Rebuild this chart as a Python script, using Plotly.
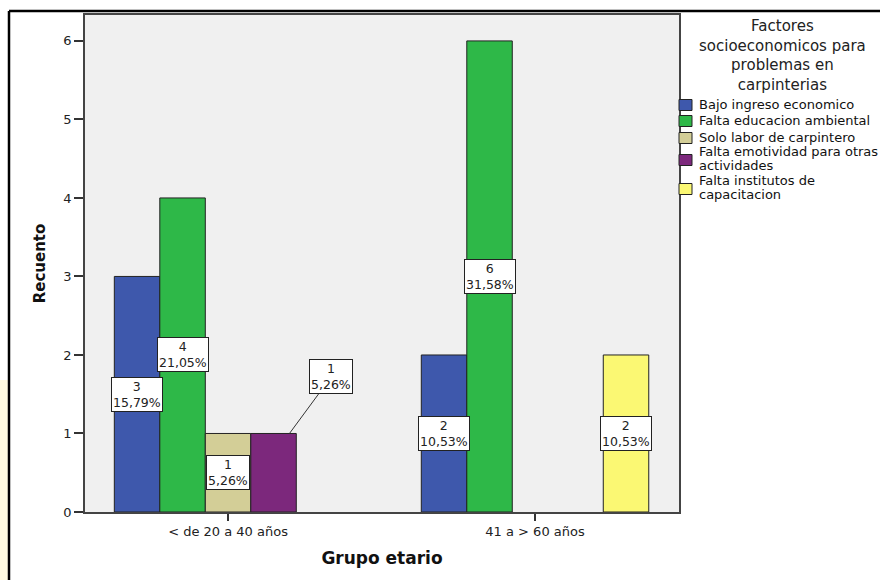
import plotly.graph_objects as go

# Category axis and series (counts per age group)
grupos = ["< de 20 a 40 años", "41 a > 60 años"]
factores = [
    ["Bajo ingreso economico"],
    ["Falta educacion ambiental"],
    ["Solo labor de carpintero"],
    ["Falta emotividad para otras", "actividades"],
    ["Falta institutos de", "capacitacion"],
]
titulo_leyenda = ["Factores", "socioeconomicos para", "problemas en", "carpinterias"]
bajo_ingreso = [3, 2]
falta_educacion = [4, 6]
solo_labor = [1, 0]
falta_emotividad = [1, 0]
falta_institutos = [0, 2]
colores = ["#3E58AC", "#2EB848", "#D3CE97", "#7C287C", "#FBF873"]

series = [bajo_ingreso, falta_educacion, solo_labor, falta_emotividad, falta_institutos]
total = sum(sum(s) for s in series)

W, H = 880, 580
ML, MR, MT, MB = 85, 201, 15, 68
PW, PH = W - ML - MR, H - MT - MB
BARGAP = 0.259
slot = (1 - BARGAP) / len(series)

SANS = "DejaVu Sans, Verdana, sans-serif"


def px_x(px):
    return (px - ML) / PW


def px_y(py):
    return (H - MB - py) / PH


fig = go.Figure()
for nombre, vals, col in zip(factores, series, colores):
    fig.add_trace(go.Bar(
        x=grupos, y=[v if v > 0 else None for v in vals], name=" ".join(nombre),
        marker=dict(color=col, line=dict(color="#222222", width=1)),
        hoverinfo="skip", showlegend=False,
    ))


def etiqueta(v):
    pct = f"{100 * v / total:.2f}".replace(".", ",")
    return f"{v}<br>{pct}%"


annotations = []
for i, vals in enumerate(series):
    for j, v in enumerate(vals):
        if v <= 0:
            continue
        xc = j + (i - (len(series) - 1) / 2) * slot
        base = dict(text=etiqueta(v), xref="x", yref="y",
                    font=dict(family=SANS, size=12.5, color="#222222"),
                    bgcolor="#FFFFFF", bordercolor="#222222", borderwidth=1,
                    borderpad=1)
        if i == 3:
            # callout placed outside the short bar, with a leader line
            annotations.append(dict(base, x=xc + 0.35 * slot, y=v,
                                    showarrow=True, arrowhead=0, arrowwidth=1,
                                    arrowcolor="#333333", ax=42, ay=-57))
        else:
            annotations.append(dict(base, x=xc, y=v / 2, showarrow=False))

# legend title, one centred block
annotations.append(dict(
    text="<br>".join(titulo_leyenda), xref="paper", yref="paper",
    x=px_x(782), y=px_y(56), xanchor="center", yanchor="middle", align="center",
    showarrow=False, font=dict(family=SANS, size=15, color="#222222")))

# legend entries: swatch + text lines
shapes = []
sw_centres = [105, 121, 138, 160, 189]
for k, (lineas, col) in enumerate(zip(factores, colores)):
    yc = sw_centres[k]
    shapes.append(dict(type="rect", xref="paper", yref="paper",
                       x0=px_x(679), x1=px_x(692), y0=px_y(yc + 5.5), y1=px_y(yc - 5.5),
                       fillcolor=col, line=dict(color="#222222", width=1)))
    n = len(lineas)
    for m, linea in enumerate(lineas):
        yl = yc + (m - (n - 1) / 2) * 14.5 - (1.5 if n > 1 else 0)
        annotations.append(dict(
            text=linea, xref="paper", yref="paper", x=px_x(697), y=px_y(yl),
            xanchor="left", yanchor="middle", showarrow=False,
            font=dict(family=SANS, size=13, color="#111111")))

# outer frame (left and top edges) and faint tint at the lower left
shapes += [
    dict(type="rect", xref="paper", yref="paper",
         x0=px_x(0), x1=px_x(8), y0=px_y(580), y1=px_y(380),
         fillcolor="#FFFADF", line=dict(width=0), layer="below"),
    dict(type="line", xref="paper", yref="paper",
         x0=px_x(9), x1=px_x(9), y0=px_y(11), y1=px_y(585),
         line=dict(color="#000000", width=2.5)),
    dict(type="line", xref="paper", yref="paper",
         x0=px_x(9), x1=px_x(885), y0=px_y(11), y1=px_y(11),
         line=dict(color="#000000", width=2.5)),
]

fig.update_layout(
    width=W, height=H,
    margin=dict(l=ML, r=MR, t=MT, b=MB, pad=0),
    paper_bgcolor="#FFFFFF", plot_bgcolor="#F0F0F0",
    barmode="group", bargap=BARGAP, bargroupgap=0,
    font=dict(family=SANS, size=13, color="#222222"),
    annotations=annotations, shapes=shapes, showlegend=False,
    xaxis=dict(
        type="category", range=[-0.466, 1.469],
        showline=True, linecolor="#444444", linewidth=1.5, mirror=True,
        ticks="outside", ticklen=7, tickcolor="#333333", tickwidth=1.5,
        tickfont=dict(family=SANS, size=13, color="#222222"),
        title=dict(text="<b>Grupo etario</b>", standoff=14,
                   font=dict(family=SANS, size=17, color="#111111")),
        showgrid=False, zeroline=False,
    ),
    yaxis=dict(
        range=[0, 6.33], dtick=1, tick0=0,
        showline=True, linecolor="#444444", linewidth=1.5, mirror=True,
        ticks="outside", ticklen=9, tickcolor="#333333", tickwidth=1.5,
        tickfont=dict(family=SANS, size=13, color="#222222"),
        title=dict(text="<b>Recuento</b>", standoff=14,
                   font=dict(family=SANS, size=15, color="#111111")),
        showgrid=False, zeroline=False,
    ),
)

fig.write_html("out.html")
